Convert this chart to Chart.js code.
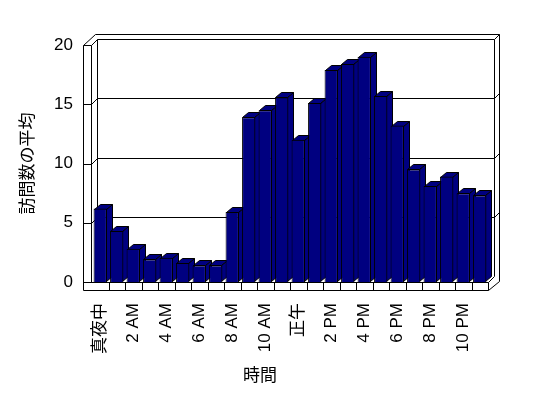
<!DOCTYPE html>
<html>
<head>
<meta charset="utf-8">
<script src="https://cdn.jsdelivr.net/npm/chart.js@4"></script>
<style>
  body { margin: 0; background: #fff; }
</style>
</head>
<body>
<canvas id="grafVisitas" width="548" height="398"></canvas>
<script>
const horas = ['真夜中', '1 AM', '2 AM', '3 AM', '4 AM', '5 AM', '6 AM', '7 AM', '8 AM', '9 AM', '10 AM', '11 AM',
  '正午', '1 PM', '2 PM', '3 PM', '4 PM', '5 PM', '6 PM', '7 PM', '8 PM', '9 PM', '10 PM', '11 PM']
const visitas = [6.2, 4.3, 2.8, 1.9, 2.05, 1.6, 1.4, 1.4, 5.9, 13.9, 14.5, 15.6,
  12.0, 15.1, 17.9, 18.4, 19.0, 15.7, 13.2, 9.5, 8.1, 8.9, 7.5, 7.3]
const yMax = 20
const yPaso = 5

const corBarra = '#000080'
const fonte = '"Liberation Sans", "Noto Sans CJK JP", sans-serif'

// desenha paredes, piso e faces laterais/superiores das barras (efeito 3D)
const efeito3d = {
  id: 'efeito3d',
  beforeDatasetsDraw(chart) {
    const { ctx, chartArea: a, scales: { x, y } } = chart
    const L = Math.round(a.left), R = Math.round(a.right), T = Math.round(a.top), B = Math.round(a.bottom)
    const linha = (pts) => {
      ctx.beginPath()
      pts.forEach(([px, py], i) => i ? ctx.lineTo(px + .5, py + .5) : ctx.moveTo(px + .5, py + .5))
      ctx.stroke()
    }
    ctx.save()
    ctx.strokeStyle = '#000'
    ctx.lineWidth = 1

    // parede esquerda e fundo
    linha([[L - 9, T], [L - 9, B + 8], [R, B + 8]])
    linha([[L - 9, T], [L - 1, T], [L - 1, B]])
    linha([[L - 9, T], [L + 3, T - 11], [R + 11, T - 11], [R + 11, B - 1], [R, B + 8]])
    linha([[L - 1, T], [L + 5, T - 6], [R + 6, T - 6], [R + 6, B - 6], [R, B]])
    linha([[R + 6, T - 6], [R + 11, T - 11]])
    linha([[L + 5, T - 6], [L + 5, B - 6]])

    // linhas de grade no fundo
    for (let v = yPaso; v < yMax; v += yPaso) {
      const py = Math.round(y.getPixelForValue(v))
      linha([[L - 9, py], [L - 1, py], [L + 5, py - 6], [R + 6, py - 6], [R + 11, py - 11]])
    }

    // piso
    linha([[L - 9, B], [R, B], [R, B + 8]])
    const passo = x.getPixelForValue(1) - x.getPixelForValue(0)
    for (let i = 1; i < horas.length; i++) {
      const px = Math.round(x.getPixelForValue(i) - passo / 2)
      linha([[px, B], [px, B + 8]])
    }

    // lados e topos das barras
    const dx = 6, dy = -5
    ctx.fillStyle = corBarra
    const poli = (pts) => {
      ctx.beginPath()
      pts.forEach(([px, py], i) => i ? ctx.lineTo(px, py) : ctx.moveTo(px, py))
      ctx.closePath()
      ctx.fill()
      ctx.stroke()
    }
    chart.getDatasetMeta(0).data.forEach(bar => {
      const x1 = Math.round(bar.x - bar.width / 2) + .5
      const x2 = Math.round(bar.x + bar.width / 2) - .5
      const topo = Math.round(bar.y) + .5
      const base = Math.round(bar.base) - .5
      poli([[x2, topo], [x2 + dx, topo + dy], [x2 + dx, base + dy], [x2, base]])
      poli([[x1, topo], [x1 + dx, topo + dy], [x2 + dx, topo + dy], [x2, topo]])
    })
    ctx.restore()
  }
}

const ctxVisitas = document.getElementById('grafVisitas')

new Chart(ctxVisitas, {
  type: 'bar',
  data: {
    labels: horas,
    datasets: [{
      data: visitas,
      backgroundColor: corBarra,
      borderColor: '#000',
      borderWidth: 1,
      barPercentage: 0.81,
      categoryPercentage: 1
    }]
  },
  plugins: [efeito3d],
  options: {
    responsive: false,
    animation: false,
    layout: {
      padding: { left: 32, right: 60, top: 45, bottom: 11 }
    },
    plugins: {
      legend: { display: false },
      tooltip: { enabled: false },
      title: {
        display: true,
        position: 'bottom',
        text: '時間',
        color: '#000',
        padding: { top: 0, bottom: 0 },
        font: { size: 17, weight: 'normal', family: fonte }
      }
    },
    scales: {
      x: {
        offset: true,
        grid: { display: false },
        border: { display: false },
        ticks: {
          color: '#000',
          autoSkip: false,
          minRotation: 90,
          maxRotation: 90,
          padding: 13,
          font: { size: 17, family: fonte },
          callback: function (v, i) { return i % 2 === 0 ? horas[i] : '' }
        },
        afterFit(scale) { scale.height = 84.6 }
      },
      y: {
        min: 0,
        max: yMax,
        grid: { display: false, drawTicks: false },
        border: { display: false },
        ticks: {
          stepSize: yPaso,
          color: '#000',
          padding: 19,
          font: { size: 17, family: fonte }
        },
        title: {
          display: true,
          text: '訪問数の平均',
          color: '#000',
          padding: { top: -13.7, bottom: 0 },
          font: { size: 17, family: fonte }
        },
        afterFit(scale) { scale.width = 60 }
      }
    }
  }
});
</script>
</body>
</html>
